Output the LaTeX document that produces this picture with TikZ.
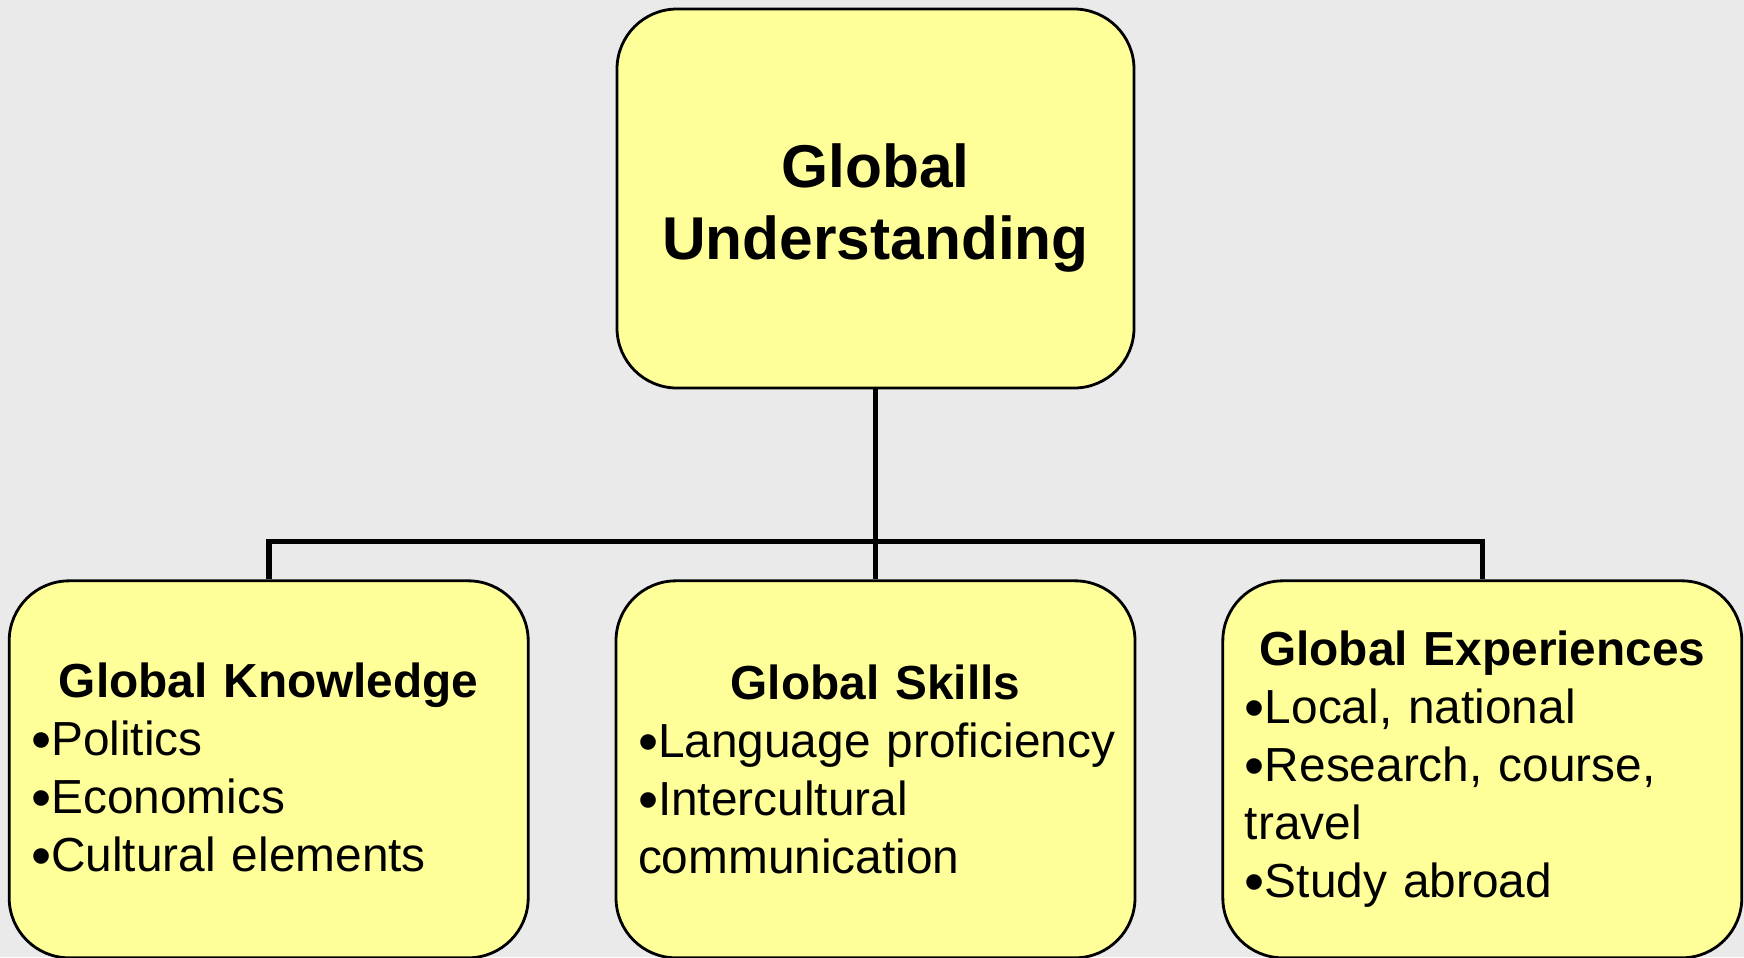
\documentclass[tikz,border=0pt]{standalone}
\usepackage{fontspec}
\usepackage{graphicx}
\setmainfont{Liberation Sans}
\usetikzlibrary{positioning, calc}
\definecolor{bggray}{HTML}{EAEAEA}
\definecolor{boxyellow}{HTML}{FFFF99}
\newcommand{\Item}[1]{\mbox{\raisebox{-0.08em}{\scalebox{1.2}{\textbullet}}#1}}
\newcommand{\Head}[1]{\makebox[\linewidth][c]{\bfseries #1}}
\tikzset{
    topbox/.style={draw, line width=0.8pt, fill=boxyellow, rounded corners=0.6cm,
        minimum width=5.17cm, minimum height=3.79cm, align=center,
        font=\fontsize{17.2}{20.5}\selectfont\bfseries},
    subbox/.style={draw, line width=0.8pt, fill=boxyellow, rounded corners=0.6cm,
        minimum width=5.19cm, minimum height=3.77cm, text width=4.75cm,
        inner xsep=0.22cm, align=left, font=\fontsize{13.6}{16.5}\selectfont},
    conn/.style={line width=1.6pt},
}

\begin{document}
\begin{tikzpicture}
    \useasboundingbox[fill=bggray] (0,0) rectangle (17.44,-9.57);

    \node[topbox] (top) at (8.755,-1.985) {\rule{0pt}{0.63cm}Global\\Understanding};

    \node[subbox, below=1.9cm of top] (skills)
        {\Head{Global Skills}\\\Item{Language proficiency}\\\Item{Intercultural}\\communication};
    \node[subbox, left=0.85cm of skills] (knowledge)
        {\Head{Global Knowledge}\\\Item{Politics}\\\Item{Economics}\\\Item{Cultural elements}};
    \node[subbox, right=0.85cm of skills] (experiences)
        {\Head{Global Experiences}\\\Item{Local, national}\\\Item{Research, course,}\\travel\\\Item{Study abroad}};

    \coordinate (bus) at ($(top.south)!0.8!(skills.north)$);

    \draw[conn] (top.south) -- (skills.north);
    \draw[conn] (knowledge.north) |- (bus) -| (experiences.north);
\end{tikzpicture}
\end{document}
